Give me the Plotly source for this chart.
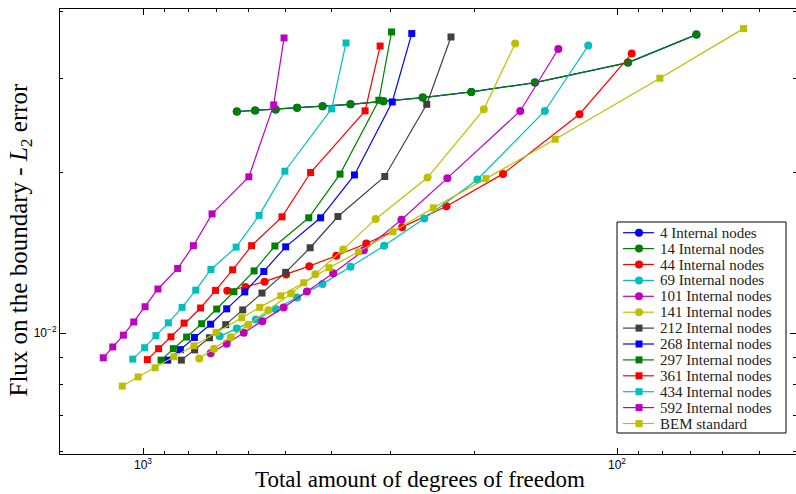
import plotly.graph_objects as go

# ---- data (degrees of freedom, L2 error) ----
dof_4 = [634, 580, 525, 473, 418, 365, 311, 257, 203, 149, 94.8, 68.0]
err_4 = [0.02597, 0.02609, 0.02619, 0.02638, 0.02657, 0.02679, 0.02714, 0.02758, 0.02825, 0.02942, 0.03206, 0.03617]

dof_14 = [634, 580, 525, 473, 418, 365, 311, 257, 203, 149, 94.8, 68.0]
err_14 = [0.02597, 0.02609, 0.02619, 0.02638, 0.02657, 0.02679, 0.02714, 0.02758, 0.02825, 0.02942, 0.03206, 0.03617]

dof_44 = [664, 608, 554, 499, 446, 391, 338, 284, 229, 174, 120, 93.1]
err_44 = [0.0120, 0.0122, 0.01248, 0.01287, 0.01334, 0.01395, 0.01471, 0.01578, 0.01727, 0.01985, 0.02567, 0.03333]

dof_69 = [689, 634, 578, 525, 473, 418, 365, 310, 255, 197, 142, 115]
err_69 = [0.00986, 0.0102, 0.0106, 0.01109, 0.01165, 0.01236, 0.0133, 0.01457, 0.01638, 0.01938, 0.02603, 0.0345]

dof_101 = [720, 666, 613, 560, 505, 451, 397, 342, 285, 228, 160, 133]
err_101 = [0.00917, 0.00955, 0.01001, 0.01052, 0.01117, 0.01196, 0.01294, 0.01428, 0.01629, 0.01949, 0.02603, 0.0340]

dof_141 = [761, 708, 653, 600, 544, 487, 433, 378, 323, 251, 191, 164]
err_141 = [0.00896, 0.00935, 0.00982, 0.01037, 0.01103, 0.01186, 0.01289, 0.01434, 0.01635, 0.01954, 0.02621, 0.0348]

dof_212 = [830, 778, 724, 669, 616, 561, 500, 444, 388, 309, 252, 224]
err_212 = [0.0089, 0.0093, 0.0098, 0.01037, 0.01105, 0.01188, 0.01299, 0.01444, 0.01652, 0.01963, 0.02679, 0.0358]

dof_268 = [887, 834, 779, 720, 666, 610, 556, 500, 422, 358, 298, 271]
err_268 = [0.0089, 0.00931, 0.00981, 0.01039, 0.0111, 0.01194, 0.01304, 0.0145, 0.01643, 0.01976, 0.02706, 0.03633]

dof_297 = [916, 863, 809, 752, 699, 643, 583, 527, 447, 384, 318, 299]
err_297 = [0.0089, 0.00935, 0.00983, 0.01041, 0.01109, 0.01195, 0.01307, 0.01455, 0.01643, 0.01983, 0.02726, 0.03658]

dof_361 = [979, 927, 873, 819, 756, 703, 647, 590, 509, 443, 340, 316]
err_361 = [0.00892, 0.00935, 0.00984, 0.01044, 0.01114, 0.01202, 0.01313, 0.01457, 0.0165, 0.01997, 0.02604, 0.03443]

dof_434 = [1051, 992, 939, 884, 827, 774, 719, 636, 569, 502, 400, 373]
err_434 = [0.00894, 0.00939, 0.00989, 0.01045, 0.01117, 0.01203, 0.01315, 0.01448, 0.0166, 0.02008, 0.02627, 0.03489]

dof_592 = [1213, 1158, 1100, 1046, 990, 930, 845, 783, 715, 598, 530, 504]
err_592 = [0.00899, 0.00942, 0.00991, 0.01049, 0.0112, 0.01209, 0.01321, 0.01457, 0.01671, 0.0196, 0.02672, 0.03565]

dof_bem = [1106, 1024, 943, 861, 781, 701, 619, 567, 512, 458, 405, 351, 297, 244, 189, 135, 81.2, 54.1]
err_bem = [0.00796, 0.00828, 0.00861, 0.00903, 0.00947, 0.01003, 0.01068, 0.01117, 0.01174, 0.01242,
           0.01325, 0.01419, 0.01547, 0.01715, 0.01945, 0.02305, 0.02997, 0.03711]

series_names = ["4 Internal nodes", "14 Internal nodes", "44 Internal nodes", "69 Internal nodes",
                "101 Internal nodes", "141 Internal nodes", "212 Internal nodes", "268 Internal nodes",
                "297 Internal nodes", "361 Internal nodes", "434 Internal nodes", "592 Internal nodes",
                "BEM standard"]
series_x = [dof_4, dof_14, dof_44, dof_69, dof_101, dof_141, dof_212, dof_268, dof_297, dof_361,
            dof_434, dof_592, dof_bem]
series_y = [err_4, err_14, err_44, err_69, err_101, err_141, err_212, err_268, err_297, err_361,
            err_434, err_592, err_bem]

x_tickvals = [1000, 100]
x_ticktext = ["10<sup>3</sup>", "10<sup>2</sup>"]
x_minor = [900, 800, 700, 600, 500, 400, 300, 200, 90, 80, 70, 60, 50]
y_tickvals = [0.01]
y_ticktext = ["10<sup>\u22122</sup>"]
y_minor = [0.006, 0.007, 0.008, 0.009, 0.02, 0.03, 0.04]

x_title = "Total amount of degrees of freedom"
y_title = "Flux on the boundary - <i>L</i><sub>2</sub> error"

# ---- styles ----
colors = ["#0000ff", "#008000", "#ff0000", "#00bfbf", "#bf00bf", "#bfbf00", "#404040",
          "#0000ff", "#008000", "#ff0000", "#00bfbf", "#bf00bf", "#bfbf00"]
symbols = ["circle"] * 6 + ["square"] * 7
serif = "Liberation Serif, DejaVu Serif, serif"
sans = "Liberation Sans, Arial, sans-serif"

W, H = 796, 494
ML, MR, MT, MB = 60, 0, 9, 40
PW, PH = W - ML - MR, H - MT - MB

def px_x(p):  # pixel -> paper
    return (p - ML) / PW

def px_y(p):
    return (H - MB - p) / PH

fig = go.Figure()
for name, xs, ys, c, s in zip(series_names, series_x, series_y, colors, symbols):
    fig.add_trace(go.Scatter(
        x=xs, y=ys, name=name, mode="lines+markers", showlegend=False,
        line=dict(color=c, width=1.2),
        marker=dict(symbol=s, color=c, size=8 if s == "circle" else 7, line=dict(width=0)),
    ))

# ---- legend drawn in a small overlay axis (box 617..786 x 222..433 px) ----
LB_L, LB_R, LB_T, LB_B = 617, 786, 222, 433
row_h = 15.9
first_row = 10.7
for i, (name, c, s) in enumerate(zip(series_names, colors, symbols)):
    yy = first_row + row_h * i
    fig.add_trace(go.Scatter(
        x=[6, 37], y=[yy, yy], mode="lines", showlegend=False, hoverinfo="skip",
        line=dict(color=c, width=1.2), xaxis="x2", yaxis="y2"))
    fig.add_trace(go.Scatter(
        x=[22], y=[yy], mode="markers", showlegend=False, hoverinfo="skip",
        marker=dict(symbol=s, color=c, size=8 if s == "circle" else 7, line=dict(width=0)),
        xaxis="x2", yaxis="y2"))
    fig.add_annotation(
        x=41, y=yy, xref="x2", yref="y2", text=name, showarrow=False,
        xanchor="left", yanchor="middle",
        font=dict(family=serif, size=15, color="#222"))

fig.add_shape(type="rect", xref="paper", yref="paper",
              x0=px_x(LB_L), x1=px_x(LB_R), y0=px_y(LB_B), y1=px_y(LB_T),
              line=dict(color="black", width=1), fillcolor="white", layer="below")

# axis titles as annotations for precise placement
fig.add_annotation(x=px_x(420), y=px_y(494), xref="paper", yref="paper", text=x_title,
                   showarrow=False, xanchor="center", yanchor="bottom",
                   font=dict(family=serif, size=23, color="black"))
fig.add_annotation(x=px_x(2), y=px_y(240), xref="paper", yref="paper", text=y_title,
                   showarrow=False, xanchor="left", yanchor="middle", textangle=-90,
                   font=dict(family=serif, size=25, color="black"))

fig.update_layout(
    width=W, height=H,
    margin=dict(l=ML, r=MR, t=MT, b=MB),
    paper_bgcolor="white", plot_bgcolor="rgba(0,0,0,0)",
    showlegend=False,
    xaxis=dict(
        type="log", range=[3.1751, 1.6224],
        tickvals=x_tickvals, ticktext=x_ticktext,
        ticks="inside", ticklen=6, tickcolor="black", tickwidth=1,
        showline=True, linecolor="black", linewidth=1, mirror="ticks",
        showgrid=False, zeroline=False,
        tickfont=dict(family=sans, size=12, color="black"),
        minor=dict(tickvals=x_minor, ticks="inside", ticklen=3, tickcolor="black", showgrid=False),
    ),
    yaxis=dict(
        type="log", range=[-2.2262, -1.3938],
        tickvals=y_tickvals, ticktext=y_ticktext,
        ticks="inside", ticklen=6, tickcolor="black", tickwidth=1,
        showline=True, linecolor="black", linewidth=1, mirror="ticks",
        showgrid=False, zeroline=False,
        tickfont=dict(family=sans, size=12, color="black"),
        minor=dict(tickvals=y_minor, ticks="inside", ticklen=3, tickcolor="black", showgrid=False),
    ),
    xaxis2=dict(domain=[px_x(LB_L), px_x(LB_R)], range=[0, LB_R - LB_L], visible=False,
                fixedrange=True, anchor="y2"),
    yaxis2=dict(domain=[px_y(LB_B), px_y(LB_T)], range=[LB_B - LB_T, 0], visible=False,
                fixedrange=True, anchor="x2"),
)

fig.write_html("out.html")
